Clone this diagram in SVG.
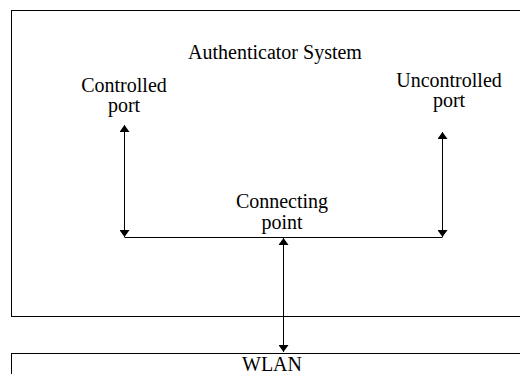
<svg xmlns="http://www.w3.org/2000/svg" width="520" height="374" viewBox="0 0 520 374">
  <style>
    .box { fill: #fff; stroke: #000; stroke-width: 1; }
    .lbl { font-size: 20px; fill: #000; text-anchor: middle; }
    .wire { stroke: #000; stroke-width: 1; fill: none; }
    .arrow { stroke: #000; stroke-width: 1; fill: none; marker-start: url(#head); marker-end: url(#head); }
  </style>
  <defs>
    <marker id="head" viewBox="0 0 7 10" refX="7" refY="5" markerWidth="7" markerHeight="10" markerUnits="userSpaceOnUse" orient="auto-start-reverse">
      <path d="M0,0 L7,5 L0,10 Z" fill="#000"/>
    </marker>
  </defs>
  <rect width="520" height="374" fill="#fff"/>

  <g font-family="'Liberation Serif', 'Times New Roman', 'DejaVu Serif', serif">
    <g id="authenticator-system">
      <rect class="box" x="11.5" y="10.5" width="520" height="306"/>
      <text class="lbl" x="275" y="59">Authenticator System</text>
    </g>

    <g id="controlled-port">
      <text class="lbl" x="124" y="92">Controlled</text>
      <text class="lbl" x="124" y="112">port</text>
    </g>

    <g id="uncontrolled-port">
      <text class="lbl" x="449" y="87">Uncontrolled</text>
      <text class="lbl" x="449" y="107">port</text>
    </g>

    <g id="connecting-point">
      <text class="lbl" x="282" y="208">Connecting</text>
      <text class="lbl" x="282" y="229">point</text>
    </g>

    <g id="wlan">
      <rect class="box" x="11.5" y="353.5" width="520" height="40"/>
      <text class="lbl" x="272" y="371">WLAN</text>
    </g>
  </g>

  <g id="connectors">
    <line class="wire" x1="124.5" y1="237.5" x2="442.5" y2="237.5"/>
    <line class="arrow" x1="124.5" y1="125" x2="124.5" y2="237"/>
    <line class="arrow" x1="442.5" y1="132" x2="442.5" y2="237"/>
    <line class="arrow" x1="283.5" y1="238" x2="283.5" y2="352"/>
  </g>
</svg>
